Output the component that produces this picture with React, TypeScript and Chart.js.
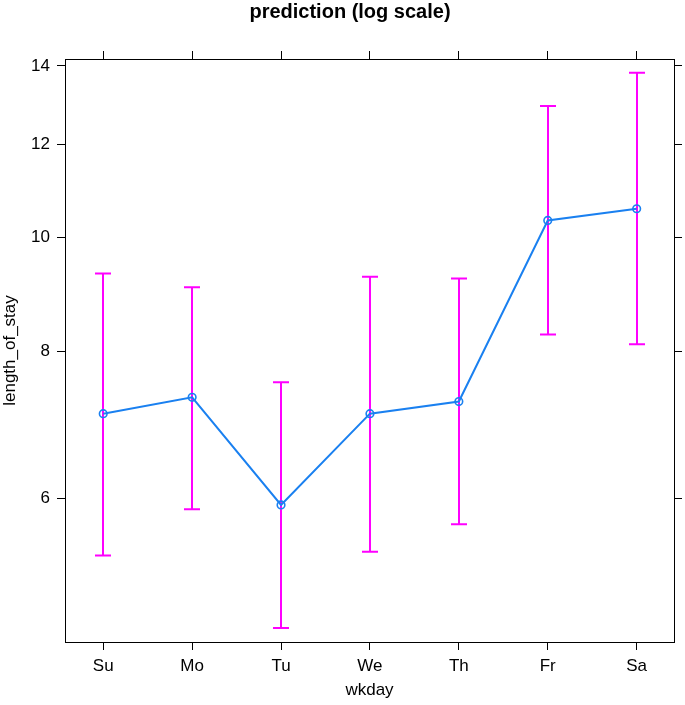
import React, { useEffect, useRef } from 'react';
import { Chart, registerables } from 'chart.js';

Chart.register(...registerables);

// ---- data ----
const categories = ['Su', 'Mo', 'Tu', 'We', 'Th', 'Fr', 'Sa'];
const predicted = [7.08, 7.31, 5.92, 7.08, 7.25, 10.34, 10.58];
const lower = [5.36, 5.87, 4.65, 5.40, 5.70, 8.27, 8.11];
const upper = [9.32, 9.07, 7.53, 9.26, 9.23, 12.94, 13.81];
const yTicks = [6, 8, 10, 12, 14];
const xRange = [0.57, 7.42];
const yRange = [4.525, 14.19];
const titleText = 'prediction (log scale)';
const xTitle = 'wkday';
const yTitle = 'length_of_stay';

const FONT = '"Liberation Sans", Arial, Helvetica, sans-serif';

const errorBarsPlugin = {
  id: 'errorBars',
  beforeDatasetsDraw(chart: any) {
    const { ctx } = chart;
    const x = chart.scales.x;
    const y = chart.scales.y;
    ctx.save();
    ctx.strokeStyle = '#ff00ff';
    ctx.lineWidth = 2;
    categories.forEach((_, i) => {
      const px = Math.round(x.getPixelForValue(i + 1));
      const top = y.getPixelForValue(upper[i]);
      const bot = y.getPixelForValue(lower[i]);
      ctx.beginPath();
      ctx.moveTo(px, top);
      ctx.lineTo(px, bot);
      ctx.moveTo(px - 8, top);
      ctx.lineTo(px + 8, top);
      ctx.moveTo(px - 8, bot);
      ctx.lineTo(px + 8, bot);
      ctx.stroke();
    });
    ctx.restore();
  },
};

const textPlugin = {
  id: 'latticeText',
  afterDraw(chart: any) {
    const { ctx, chartArea } = chart;
    ctx.save();
    ctx.fillStyle = '#000';
    ctx.textAlign = 'center';
    ctx.textBaseline = 'alphabetic';
    ctx.font = `bold 20px ${FONT}`;
    ctx.fillText(titleText, 350, 17.5);
    ctx.font = `17px ${FONT}`;
    const cx = (chartArea.left + chartArea.right) / 2;
    ctx.fillText(xTitle, cx, 695);
    const cy = (chartArea.top + chartArea.bottom) / 2;
    ctx.translate(14.5, cy);
    ctx.rotate(-Math.PI / 2);
    ctx.fillText(yTitle, 0, 0);
    ctx.restore();
  },
};

const gridOpts = {
  display: true,
  drawOnChartArea: false,
  drawTicks: true,
  tickLength: 8,
  color: '#000',
  lineWidth: 1,
};
const borderOpts = { display: true, color: '#000', width: 1 };

export default function App() {
  const ref = useRef<HTMLCanvasElement>(null);

  useEffect(() => {
    if (!ref.current) return;
    Chart.defaults.font.family = FONT;
    const chart = new Chart(ref.current, {
      type: 'line',
      data: {
        datasets: [
          {
            label: 'prediction',
            data: categories.map((_, i) => ({ x: i + 1, y: predicted[i] })),
            borderColor: '#1a80f0',
            borderWidth: 2,
            tension: 0,
            pointRadius: 3.8,
            pointBorderWidth: 1.6,
            pointBorderColor: '#1a80f0',
            pointBackgroundColor: 'rgba(0,0,0,0)',
            pointStyle: 'circle',
          },
        ],
      },
      options: {
        responsive: false,
        animation: false,
        devicePixelRatio: 1,
        layout: { padding: 0 },
        plugins: {
          legend: { display: false },
          tooltip: { enabled: false },
          title: { display: false },
        },
        scales: {
          x: {
            type: 'linear',
            position: 'bottom',
            min: xRange[0],
            max: xRange[1],
            afterBuildTicks: (s: any) => {
              s.ticks = categories.map((_, i) => ({ value: i + 1 }));
            },
            afterFit: (s: any) => {
              s.height = 63;
            },
            ticks: {
              autoSkip: false,
              maxRotation: 0,
              padding: 6,
              color: '#000',
              font: { size: 17, family: FONT },
              callback: (v: any) => categories[Math.round(Number(v)) - 1] ?? '',
            },
            grid: gridOpts,
            border: borderOpts,
          },
          x2: {
            type: 'linear',
            axis: 'x',
            position: 'top',
            min: xRange[0],
            max: xRange[1],
            afterBuildTicks: (s: any) => {
              s.ticks = categories.map((_, i) => ({ value: i + 1 }));
            },
            afterFit: (s: any) => {
              s.height = 59;
            },
            ticks: { autoSkip: false, maxRotation: 0, padding: 0, callback: () => '' },
            grid: gridOpts,
            border: borderOpts,
          },
          y: {
            type: 'logarithmic',
            position: 'left',
            min: yRange[0],
            max: yRange[1],
            afterBuildTicks: (s: any) => {
              s.ticks = yTicks.map((v) => ({ value: v }));
            },
            afterFit: (s: any) => {
              s.width = 65;
            },
            ticks: {
              autoSkip: false,
              padding: 7,
              color: '#000',
              font: { size: 17, family: FONT },
              callback: (v: any) => String(v),
            },
            grid: gridOpts,
            border: borderOpts,
          },
          y2: {
            type: 'logarithmic',
            axis: 'y',
            position: 'right',
            min: yRange[0],
            max: yRange[1],
            afterBuildTicks: (s: any) => {
              s.ticks = yTicks.map((v) => ({ value: v }));
            },
            afterFit: (s: any) => {
              s.width = 11;
            },
            ticks: { autoSkip: false, padding: 0, callback: () => '' },
            grid: gridOpts,
            border: borderOpts,
          },
        },
      },
      plugins: [errorBarsPlugin, textPlugin],
    } as any);
    return () => chart.destroy();
  }, []);

  return (
    <div style={{ position: 'fixed', left: 0, top: 0, width: 685, height: 705, background: '#fff' }}>
      <canvas ref={ref} width={685} height={705} style={{ display: 'block', width: 685, height: 705 }} />
    </div>
  );
}
